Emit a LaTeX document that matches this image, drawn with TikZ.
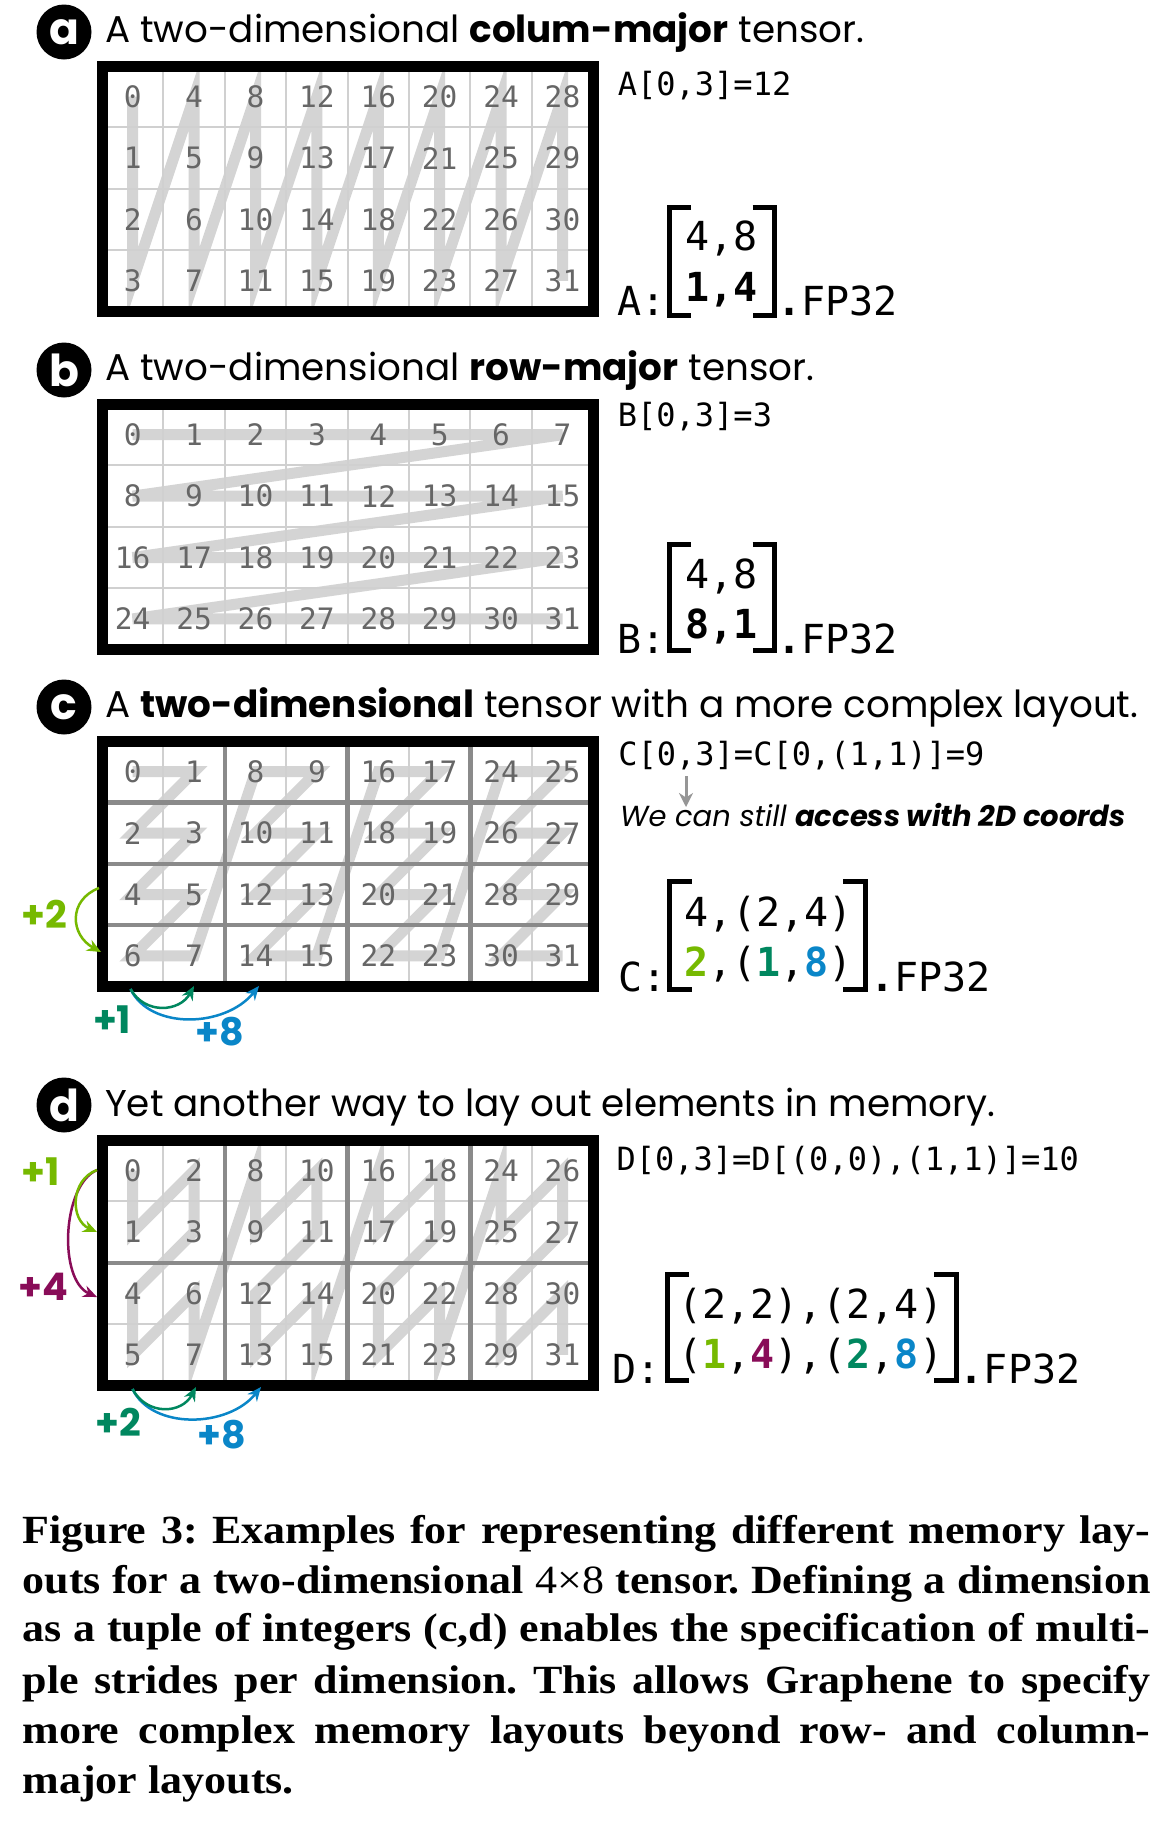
\documentclass[tikz,border=0pt]{standalone}
\usepackage{fontspec}
\setmainfont{Poppins}
\newfontfamily\monofont{DejaVu Sans Mono}
\newfontfamily\capfont[FakeStretch=1.1]{Liberation Serif}
\usetikzlibrary{arrows.meta}

\definecolor{nvgreen}{HTML}{76B900}
\definecolor{nvteal}{HTML}{00875F}
\definecolor{nvblue}{HTML}{0A86C8}
\definecolor{nvpurple}{HTML}{890C58}
\definecolor{numgray}{HTML}{666666}
\definecolor{ziggray}{HTML}{D4D4D4}
\definecolor{linegray}{HTML}{D0D0D0}
\definecolor{groupgray}{HTML}{8A8A8A}

\def\cs{61.4}
\def\gx{102}
\def\cellgrid#1#2{\foreach \r in {0,...,3} \foreach \c in {0,...,7} \coordinate (#1-\r-\c) at ({\gx+(\c+0.5)*\cs},{#2+(\r+0.5)*\cs});}
\def\brackets(#1,#2,#3,#4){\draw[bracket] ({#1+22},#3) -- (#1,#3) -- (#1,#4) -- ({#1+22},#4); \draw[bracket] ({#2-22},#3) -- (#2,#3) -- (#2,#4) -- ({#2-22},#4);}

\tikzset{
  cellnum/.style={font=\monofont\fontsize{29.5}{30}\selectfont, text=numgray, inner sep=0pt},
  zig/.style={draw=ziggray, line width=11pt},
  thinrule/.style={draw=linegray, line width=2pt},
  grouprule/.style={draw=groupgray, line width=4.5pt},
  frame/.style={draw=black, line width=11pt},
  badge/.style={circle, fill=black, minimum size=55pt, inner sep=0pt, text=white, font=\bfseries\fontsize{44}{44}\selectfont},
  heading/.style={anchor=base west, inner sep=0pt, font=\fontsize{37.3}{40}\selectfont},
  code/.style={anchor=base west, inner sep=0pt, font=\monofont\fontsize{32}{32}\selectfont},
  matrow/.style={anchor=base west, inner sep=0pt, font=\monofont\fontsize{40}{40}\selectfont},
  note/.style={anchor=base west, inner sep=0pt, font=\itshape\fontsize{29}{30}\selectfont},
  bracket/.style={line width=5pt},
  stride/.style={line width=2.5pt, -{Stealth[length=14pt,width=12pt]}},
  stridelabel/.style={anchor=base west, inner sep=0pt, font=\bfseries\fontsize{38}{40}\selectfont},
  caption/.style={anchor=base west, inner sep=0pt, font=\capfont\bfseries\fontsize{40}{50}\selectfont\frenchspacing},
}

\begin{document}
\begin{tikzpicture}[x=1pt,y=-1pt]
			%%%%% PAGE %%%%%
			\fill[white] (0,0) rectangle (1171,1821);
			\useasboundingbox (0,0) rectangle (1171,1821);
			
			%%%%% a: column-major %%%%%
			\node[badge] (tag-a) at (64,32) {a};
			\node[heading] (title-a) at (105,42) {A two-dimensional \textbf{colum-major} tensor.};
			\cellgrid{a}{66}
			\draw[zig] (a-0-0) \foreach \k [evaluate=\k as \r using {int(mod(\k,4))}, evaluate=\k as \c using {int(\k/4)}] in {1,...,31} { -- (a-\r-\c) };
			\foreach \i in {1,...,7} \draw[thinrule] ({\gx+\i*\cs},66) -- ++(0,{4*\cs});
			\foreach \i in {1,2,3} \draw[thinrule] (\gx,{66+\i*\cs}) -- ++({8*\cs},0);
			\foreach \r in {0,...,3} \foreach \c in {0,...,7} { \pgfmathtruncatemacro\v{4*\c+\r} \node[cellnum] (na-\r-\c) at (a-\r-\c) {\v}; }
			\draw[frame] (\gx,66) rectangle ({\gx+8*\cs},{66+4*\cs});
			
			\node[code] (idx-a) at (617.7,95) {A[0,3]=12};
			\node[matrow] (lbl-a) at (617.7,315) {A:};
			\node[matrow] (row-a1) at (685.5,250) {4,8};
			\node[matrow] (row-a2) at (685.5,301.7) {\textbf{1,4}};
			\node[matrow] (dt-a) at (777,315) {\textbf{.}FP32};
			\brackets(669.2,774.5,207.5,315.8)
			
			%%%%% b: row-major %%%%%
			\node[badge] (tag-b) at (64,370) {b};
			\node[heading] (title-b) at (105,380) {A two-dimensional \textbf{row-major} tensor.};
			\cellgrid{b}{404}
			\draw[zig] (b-0-0) \foreach \k [evaluate=\k as \r using {int(\k/8)}, evaluate=\k as \c using {int(mod(\k,8))}] in {1,...,31} { -- (b-\r-\c) };
			\foreach \i in {1,...,7} \draw[thinrule] ({\gx+\i*\cs},404) -- ++(0,{4*\cs});
			\foreach \i in {1,2,3} \draw[thinrule] (\gx,{404+\i*\cs}) -- ++({8*\cs},0);
			\foreach \r in {0,...,3} \foreach \c in {0,...,7} { \pgfmathtruncatemacro\v{8*\r+\c} \node[cellnum] (nb-\r-\c) at (b-\r-\c) {\v}; }
			\draw[frame] (\gx,404) rectangle ({\gx+8*\cs},{404+4*\cs});
			
			\node[code] (idx-b) at (617.7,426.7) {B[0,3]=3};
			\node[matrow] (lbl-b) at (617.7,653.3) {B:};
			\node[matrow] (row-b1) at (685.5,588.3) {4,8};
			\node[matrow] (row-b2) at (685.5,638.3) {\textbf{8,1}};
			\node[matrow] (dt-b) at (777,653.3) {\textbf{.}FP32};
			\brackets(669.2,774.5,544.8,650.8)
			
			%%%%% c: nested layout %%%%%
			\node[badge] (tag-c) at (64,707) {c};
			\node[heading] (title-c) at (105,717) {A \textbf{two-dimensional} tensor with a more complex layout.};
			\cellgrid{c}{741}
			\draw[zig] (c-0-0) \foreach \k [evaluate=\k as \r using {int(mod(int(\k/2),4))}, evaluate=\k as \c using {int(2*int(\k/8)+mod(\k,2))}] in {1,...,31} { -- (c-\r-\c) };
			\foreach \i in {1,3,5,7} \draw[thinrule] ({\gx+\i*\cs},741) -- ++(0,{4*\cs});
			\foreach \i in {2,4,6} \draw[grouprule] ({\gx+\i*\cs},741) -- ++(0,{4*\cs});
			\foreach \i in {1,2,3} \draw[grouprule] (\gx,{741+\i*\cs}) -- ++({8*\cs},0);
			\foreach \r in {0,...,3} \foreach \c in {0,...,7} { \pgfmathtruncatemacro\v{mod(\c,2)+2*\r+8*int(\c/2)} \node[cellnum] (nc-\r-\c) at (c-\r-\c) {\v}; }
			\draw[frame] (\gx,741) rectangle ({\gx+8*\cs},{741+4*\cs});
			
			\coordinate (c-up) at (99,888);
			\coordinate (c-dn) at (101,952);
			\draw[stride, nvgreen] (c-up) .. controls (68,900) and (70,935) .. (c-dn);
			\node[stridelabel, text=nvgreen] (st-c2) at (21,928.3) {+2};
			\coordinate (c-from) at (130.5,989);
			\coordinate (c-one) at (194,986);
			\coordinate (c-eight) at (259,986);
			\draw[stride, nvblue] (c-from) .. controls (150,1030) and (225,1028) .. (c-eight);
			\draw[stride, nvteal] (c-from) .. controls (145,1015) and (180,1012) .. (c-one);
			\node[stridelabel, text=nvteal] (st-c1) at (92.9,1033.3) {+1};
			\node[stridelabel, text=nvblue] (st-c8) at (195.7,1045) {+8};
			
			\node[code] (idx-c) at (618.2,765) {C[0,3]=C[0,(1,1)]=9};
			\coordinate (c-comma) at (686,776);
			\coordinate (c-hint) at (686,807);
			\draw[line width=3pt, groupgray!90, -{Stealth[length=14pt,width=14pt]}] (c-comma) -- (c-hint);
			\node[note] (note-c) at (620,826.7) {We can still \textbf{access with 2D coords}};
			\node[matrow] (lbl-c) at (618.2,991.7) {C:};
			\node[matrow] (row-c1) at (683.8,926.7) {4,(2,4)};
			\node[matrow] (row-c2) at (683.8,976.7) {\textbf{\color{nvgreen}2},(\textbf{\color{nvteal}1},\textbf{\color{nvblue}8})};
			\node[matrow] (dt-c) at (870,991.7) {\textbf{.}FP32};
			\brackets(669.9,865.4,881.8,989.2)
			
			%%%%% d: another layout %%%%%
			\node[badge] (tag-d) at (64,1105) {d};
			\node[heading] (title-d) at (105,1116.7) {Yet another way to lay out elements in memory.};
			\cellgrid{d}{1140}
			\draw[zig] (d-0-0) \foreach \k [evaluate=\k as \r using {int(2*mod(int(\k/4),2)+mod(\k,2))}, evaluate=\k as \c using {int(2*int(\k/8)+mod(int(\k/2),2))}] in {1,...,31} { -- (d-\r-\c) };
			\foreach \i in {1,3,5,7} \draw[thinrule] ({\gx+\i*\cs},1140) -- ++(0,{4*\cs});
			\foreach \i in {1,3} \draw[thinrule] (\gx,{1140+\i*\cs}) -- ++({8*\cs},0);
			\foreach \i in {2,4,6} \draw[grouprule] ({\gx+\i*\cs},1140) -- ++(0,{4*\cs});
			\draw[grouprule] (\gx,{1140+2*\cs}) -- ++({8*\cs},0);
			\foreach \r in {0,...,3} \foreach \c in {0,...,7} { \pgfmathtruncatemacro\v{mod(\r,2)+2*mod(\c,2)+4*int(\r/2)+8*int(\c/2)} \node[cellnum] (nd-\r-\c) at (d-\r-\c) {\v}; }
			\draw[frame] (\gx,1140) rectangle ({\gx+8*\cs},{1140+4*\cs});
			
			\coordinate (d-top) at (97,1170);
			\coordinate (d-one) at (97,1232);
			\coordinate (d-four) at (97,1297);
			\draw[stride, nvpurple] (d-top) .. controls (62,1185) and (58,1280) .. (d-four);
			\draw[stride, nvgreen] (d-top) .. controls (70,1180) and (70,1220) .. (d-one);
			\node[stridelabel, text=nvgreen] (st-d1) at (21,1185) {+1};
			\node[stridelabel, text=nvpurple] (st-d4) at (18,1300) {+4};
			\coordinate (d-from) at (132.5,1389);
			\coordinate (d-two) at (196,1387);
			\coordinate (d-eight) at (261,1387);
			\draw[stride, nvblue] (d-from) .. controls (152,1430) and (228,1428) .. (d-eight);
			\draw[stride, nvteal] (d-from) .. controls (147,1416) and (182,1414) .. (d-two);
			\node[stridelabel, text=nvteal] (st-d2) at (95,1436.7) {+2};
			\node[stridelabel, text=nvblue] (st-d8) at (197.7,1448.3) {+8};
			
			\node[code] (idx-d) at (616.4,1170) {D[0,3]=D[(0,0),(1,1)]=10};
			\node[matrow] (lbl-d) at (612.7,1383.3) {D:};
			\node[matrow] (row-d1) at (678,1318.3) {(2,2),(2,4)};
			\node[matrow] (row-d2) at (678,1368.3) {(\textbf{\color{nvgreen}1},\textbf{\color{nvpurple}4}),(\textbf{\color{nvteal}2},\textbf{\color{nvblue}8})};
			\node[matrow] (dt-d) at (959.7,1383.3) {\textbf{.}FP32};
			\brackets(667.2,956.4,1274.2,1380.8)
			
			%%%%% caption %%%%%
			\node[caption] (cap-1) at (22.4,1543.3) {\makebox[1128pt][s]{Figure 3: Examples for representing different memory lay-}};
			\node[caption] (cap-2) at (22.4,1593.3) {\makebox[1128pt][s]{outs for a two-dimensional {\mdseries 4×8} tensor. Defining a dimension}};
			\node[caption] (cap-3) at (22.4,1641.7) {\makebox[1128pt][s]{as a tuple of integers (c,d) enables the specification of multi-}};
			\node[caption] (cap-4) at (22.4,1693.3) {\makebox[1128pt][s]{ple strides per dimension. This allows Graphene to specify}};
			\node[caption] (cap-5) at (22.4,1743.3) {\makebox[1128pt][s]{more complex memory layouts beyond row- and column-}};
			\node[caption] (cap-6) at (22.4,1793.3) {major layouts.};
			%%%%% END %%%%%
		\end{tikzpicture}
\end{document}
